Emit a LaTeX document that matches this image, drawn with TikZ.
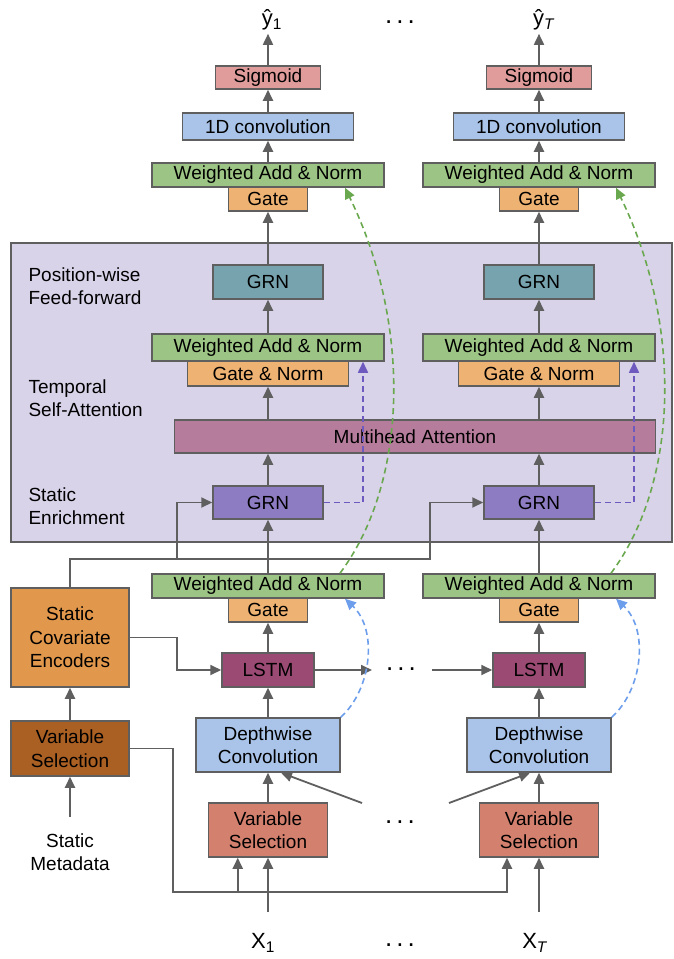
\documentclass[tikz,border=0pt]{standalone}
\usepackage{fontspec}
\setmainfont{Liberation Sans}
\usepackage{xcolor}
\usetikzlibrary{arrows.meta, positioning}
\definecolor{linegray}{HTML}{5F5F5F}
\definecolor{lavender}{HTML}{D9D3E9}
\definecolor{sigred}{HTML}{E09B9B}
\definecolor{convblue}{HTML}{A9C4E8}
\definecolor{addgreen}{HTML}{9CC484}
\definecolor{gateorange}{HTML}{EEB272}
\definecolor{grnteal}{HTML}{76A3AE}
\definecolor{mhamauve}{HTML}{B67C9C}
\definecolor{grnpurple}{HTML}{8E7CC3}
\definecolor{lstmplum}{HTML}{9B4A73}
\definecolor{selsalmon}{HTML}{D3806E}
\definecolor{encorange}{HTML}{E2984C}
\definecolor{selbrown}{HTML}{AA5F23}
\definecolor{dashgreen}{HTML}{6AA84F}
\definecolor{dashblue}{HTML}{6D9EEB}
\definecolor{dashpurple}{HTML}{6E5ABE}
\newcommand{\tdots}{.\hspace{4pt}.\hspace{4pt}.}
\tikzset{
  box/.style={rectangle, draw=linegray, line width=1.5pt, inner sep=0pt, align=center},
  arrow/.style={-{Triangle[length=11pt, width=10pt]}, draw=linegray, line width=1.8pt},
  skip/.style={dash pattern=on 6pt off 4pt, line width=1.6pt, -{Triangle[length=11pt, width=10pt]}},
  dotsnode/.style={font=\fontsize{26}{26}\selectfont},
  io/.style={font=\fontsize{22}{24}\selectfont},
}

\begin{document}
\begin{tikzpicture}[x=1pt, y=-1pt, font=\fontsize{19}{23.5}\selectfont]
  \useasboundingbox (0,0) rectangle (673,959);

  % temporal fusion decoder
  \draw[draw=linegray, line width=1.5pt, fill=lavender] (11,243) rectangle (672,542);
  \node[anchor=west, align=left] (lblff) at (25,286) {Position-wise\\Feed-forward};
  \node[anchor=west, align=left] (lblatt) at (25,398) {Temporal\\Self-Attention};
  \node[anchor=west, align=left] (lblenr) at (25,506) {Static\\Enrichment};

  % static side
  \node[box, fill=encorange, minimum width=118, minimum height=99] (staticenc) at (70,637.5) {Static\\Covariate\\Encoders};
  \node[box, fill=selbrown, minimum width=118, minimum height=55] (staticsel) at (70,748.5) {Variable\\Selection};
  \node[align=center] (staticmeta) at (70,852) {Static\\Metadata};

  % first time step
  \node[io] (yhat1) at (272,20) {ŷ\textsubscript{1}};
  \node[box, fill=sigred, minimum width=105, minimum height=23] (sigm1) at (268,77.5) {Sigmoid};
  \node[box, fill=convblue, minimum width=171, minimum height=27] (conv1) at (268,126.5) {1D convolution};
  \node[box, fill=addgreen, minimum width=232, minimum height=24] (addtop1) at (268,175) {Weighted Add \& Norm};
  \node[box, fill=gateorange, minimum width=79, minimum height=24] (gatetop1) at (268,199) {Gate};
  \node[box, fill=grnteal, minimum width=110, minimum height=34] (grnff1) at (268,282) {GRN};
  \node[box, fill=addgreen, minimum width=232, minimum height=27] (addatt1) at (268,347.5) {Weighted Add \& Norm};
  \node[box, fill=gateorange, minimum width=161, minimum height=25] (gateatt1) at (268,373.5) {Gate \& Norm};
  \node[box, fill=mhamauve, minimum width=481, minimum height=33] (mha) at (415,436.5) {Multihead Attention};
  \node[box, fill=grnpurple, minimum width=110, minimum height=33] (grnenr1) at (268,502.5) {GRN};
  \node[box, fill=addgreen, minimum width=232, minimum height=24] (addlstm1) at (268,586) {Weighted Add \& Norm};
  \node[box, fill=gateorange, minimum width=79, minimum height=24] (gatelstm1) at (268,610) {Gate};
  \node[box, fill=lstmplum, minimum width=92, minimum height=34] (lstm1) at (268,670) {LSTM};
  \node[box, fill=convblue, minimum width=144, minimum height=54] (dwconv1) at (268,745) {Depthwise\\Convolution};
  \node[box, fill=selsalmon, minimum width=119, minimum height=54] (varsel1) at (268,830) {Variable\\Selection};
  \node[io] (x1) at (263,943) {X\textsubscript{1}};

  % last time step
  \node[io] (yhat2) at (544,20) {ŷ\textsubscript{\textit{T}}};
  \node[box, fill=sigred, minimum width=105, minimum height=23] (sigm2) at (539,77.5) {Sigmoid};
  \node[box, fill=convblue, minimum width=171, minimum height=27] (conv2) at (539,126.5) {1D convolution};
  \node[box, fill=addgreen, minimum width=232, minimum height=24] (addtop2) at (539,175) {Weighted Add \& Norm};
  \node[box, fill=gateorange, minimum width=79, minimum height=24] (gatetop2) at (539,199) {Gate};
  \node[box, fill=grnteal, minimum width=110, minimum height=34] (grnff2) at (539,282) {GRN};
  \node[box, fill=addgreen, minimum width=232, minimum height=27] (addatt2) at (539,347.5) {Weighted Add \& Norm};
  \node[box, fill=gateorange, minimum width=161, minimum height=25] (gateatt2) at (539,373.5) {Gate \& Norm};
  \node[box, fill=grnpurple, minimum width=110, minimum height=33] (grnenr2) at (539,502.5) {GRN};
  \node[box, fill=addgreen, minimum width=232, minimum height=24] (addlstm2) at (539,586) {Weighted Add \& Norm};
  \node[box, fill=gateorange, minimum width=79, minimum height=24] (gatelstm2) at (539,610) {Gate};
  \node[box, fill=lstmplum, minimum width=92, minimum height=34] (lstm2) at (539,670) {LSTM};
  \node[box, fill=convblue, minimum width=144, minimum height=54] (dwconv2) at (539,745) {Depthwise\\Convolution};
  \node[box, fill=selsalmon, minimum width=119, minimum height=54] (varsel2) at (539,830) {Variable\\Selection};
  \node[io] (x2) at (535,943) {X\textsubscript{\textit{T}}};

  % dots between the steps
  \node[dotsnode] (dotsout) at (400,22) {\tdots};
  \node[dotsnode] (dotslstm) at (401,669) {\tdots};
  \node[dotsnode] (dotssel) at (400,822) {\tdots};
  \node[dotsnode] (dotsin) at (400,945) {\tdots};
  \coordinate (lstmout) at (372,670);
  \coordinate (lstmin) at (432,670);
  \coordinate (nextin) at (362,803);
  \coordinate (previn) at (449,803);
  \coordinate (ctxenr) at (177,559);
  \coordinate (ctxsel) at (173,892);

  % main flow
  \draw[arrow] (varsel1.south |- x1.north) ++(0,-18) -- (varsel1.south);
  \draw[arrow] (varsel1) -- (dwconv1);
  \draw[arrow] (dwconv1) -- (lstm1);
  \draw[arrow] (lstm1) -- (gatelstm1);
  \draw[arrow] (addlstm1) -- (grnenr1);
  \draw[arrow] (grnenr1) -- (grnenr1 |- mha.south);
  \draw[arrow] (gateatt1 |- mha.north) -- (gateatt1);
  \draw[arrow] (addatt1) -- (grnff1);
  \draw[arrow] (grnff1) -- (gatetop1);
  \draw[arrow] (addtop1) -- (conv1);
  \draw[arrow] (conv1) -- (sigm1);
  \draw[arrow] (sigm1) -- (sigm1 |- yhat1.south);

  \draw[arrow] (varsel2.south |- x2.north) ++(0,-18) -- (varsel2.south);
  \draw[arrow] (varsel2) -- (dwconv2);
  \draw[arrow] (dwconv2) -- (lstm2);
  \draw[arrow] (lstm2) -- (gatelstm2);
  \draw[arrow] (addlstm2) -- (grnenr2);
  \draw[arrow] (grnenr2) -- (grnenr2 |- mha.south);
  \draw[arrow] (gateatt2 |- mha.north) -- (gateatt2);
  \draw[arrow] (addatt2) -- (grnff2);
  \draw[arrow] (grnff2) -- (gatetop2);
  \draw[arrow] (addtop2) -- (conv2);
  \draw[arrow] (conv2) -- (sigm2);
  \draw[arrow] (sigm2) -- (sigm2 |- yhat2.south);

  \draw[arrow] (lstm1) -- (lstmout);
  \draw[arrow] (lstmin) -- (lstm2);
  \draw[arrow] (nextin) -- ([xshift=13pt]dwconv1.south);
  \draw[arrow] (previn) -- ([xshift=-9pt]dwconv2.south);

  % static context
  \draw[arrow] ([yshift=13pt]staticmeta.north) -- (staticsel.south);
  \draw[arrow] (staticsel) -- (staticenc);
  \draw[arrow] (staticenc.east) -- ++(47,0) |- (lstm1.west);
  \draw[arrow] (staticenc.north) |- (ctxenr) -- ++(253,0) |- (grnenr2.west);
  \draw[arrow] (ctxenr) |- (grnenr1.west);
  \draw[arrow] (staticsel.east) -| (ctxsel) -| ([xshift=-32pt]varsel2.south);
  \draw[arrow] (ctxsel -| varsel1.south west) ++(30,0) -- ([xshift=30pt]varsel1.south west);

  % skip connections
  \draw[skip, draw=dashblue] (dwconv1.north east) .. controls +(31,-28) and +(33,31) .. ([xshift=77pt]addlstm1.south);
  \draw[skip, draw=dashblue] (dwconv2.north east) .. controls +(31,-28) and +(33,31) .. ([xshift=77pt]addlstm2.south);
  \draw[skip, draw=dashpurple] (grnenr1.east) -| ([xshift=95pt]addatt1.south);
  \draw[skip, draw=dashpurple] (grnenr2.east) -| ([xshift=95pt]addatt2.south);
  \draw[skip, draw=dashgreen] ([xshift=72pt]addlstm1.north) .. controls +(70,-94) and +(65,133) .. ([xshift=77pt]addtop1.south);
  \draw[skip, draw=dashgreen] ([xshift=72pt]addlstm2.north) .. controls +(70,-94) and +(65,133) .. ([xshift=77pt]addtop2.south);
\end{tikzpicture}
\end{document}
